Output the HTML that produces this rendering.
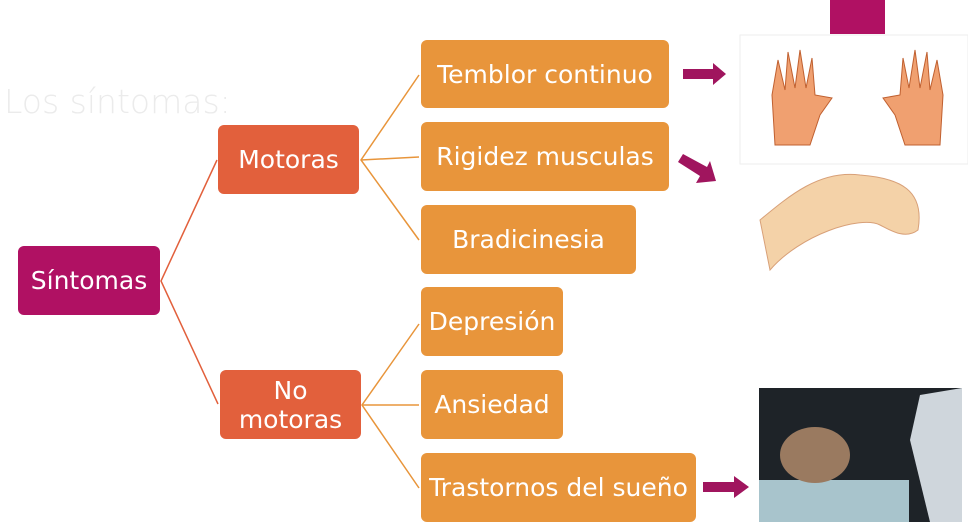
<!DOCTYPE html>
<html><head><meta charset="utf-8"><style>
html,body{margin:0;padding:0;background:#fff;}
body{width:968px;height:528px;position:relative;overflow:hidden;font-family:"DejaVu Sans","Liberation Sans",sans-serif;}
.b{position:absolute;border-radius:6px;color:#fff;font-size:25px;display:flex;align-items:center;justify-content:center;text-align:center;line-height:29px;white-space:nowrap;}
.o{background:#e8953b;}
.r{background:#e2603c;}
.m{background:#b01163;}
svg{position:absolute;left:0;top:0;}
</style></head><body>
<div style="position:absolute;left:4px;top:82px;font-size:33px;color:#ebebeb;font-weight:200;">Los síntomas:</div>
<svg width="968" height="528">
<g stroke="#e2603c" stroke-width="1.5" fill="none">
<polyline points="217,160 161,281 218,404"/>
</g>
<g stroke="#e8953b" stroke-width="1.5" fill="none">
<polyline points="419,75 361,160 419,240"/><line x1="361" y1="160" x2="419" y2="157"/>
<polyline points="419,324 362,405 419,488"/><line x1="362" y1="405" x2="419" y2="405"/>
</g>
<rect x="830" y="0" width="55" height="34" fill="#b01163"/>
<rect x="740" y="35" width="228" height="129" fill="#fff" stroke="#eee"/>
<g fill="#f0a070" stroke="#c06030">
<path d="M775,145 L772,95 778,60 785,90 788,52 795,88 800,50 806,88 812,58 815,95 832,98 820,115 810,145Z"/>
<path d="M940,145 L943,95 937,60 930,90 927,52 920,88 915,50 909,88 903,58 900,95 883,98 895,115 905,145Z"/>
<path d="M760,220 C790,195 820,170 860,175 C900,178 925,190 918,230 C905,240 890,230 880,225 C860,215 800,235 770,270Z" fill="#f4d2a8" stroke="#d8a078"/>
</g>
<rect x="759" y="388" width="203" height="134" fill="#1e2328"/>
<polygon points="920,395 962,388 962,522 930,522 910,440" fill="#cfd6dc"/>
<rect x="759" y="480" width="150" height="42" fill="#a8c4cc"/>
<ellipse cx="815" cy="455" rx="35" ry="28" fill="#9a7a60"/>
<g fill="#a0155e">
<polygon points="683,69 713,69 713,63 726,74 713,85 713,79 683,79"/>
<polygon points="678,162 683,154 707,167 710,161 716,181 696,183 700,176"/>
<polygon points="703,482 734,482 734,476 749,487 734,498 734,492 703,492"/>
</g>
</svg>
<div class="b m" style="left:18px;top:246px;width:142px;height:69px;">Síntomas</div>
<div class="b r" style="left:218px;top:125px;width:141px;height:69px;">Motoras</div>
<div class="b r" style="left:220px;top:370px;width:141px;height:69px;">No<br>motoras</div>
<div class="b o" style="left:421px;top:40px;width:248px;height:68px;">Temblor continuo</div>
<div class="b o" style="left:421px;top:122px;width:248px;height:69px;">Rigidez musculas</div>
<div class="b o" style="left:421px;top:205px;width:215px;height:69px;">Bradicinesia</div>
<div class="b o" style="left:421px;top:287px;width:142px;height:69px;">Depresión</div>
<div class="b o" style="left:421px;top:370px;width:142px;height:69px;">Ansiedad</div>
<div class="b o" style="left:421px;top:453px;width:275px;height:69px;">Trastornos del sueño</div>
</body></html>
